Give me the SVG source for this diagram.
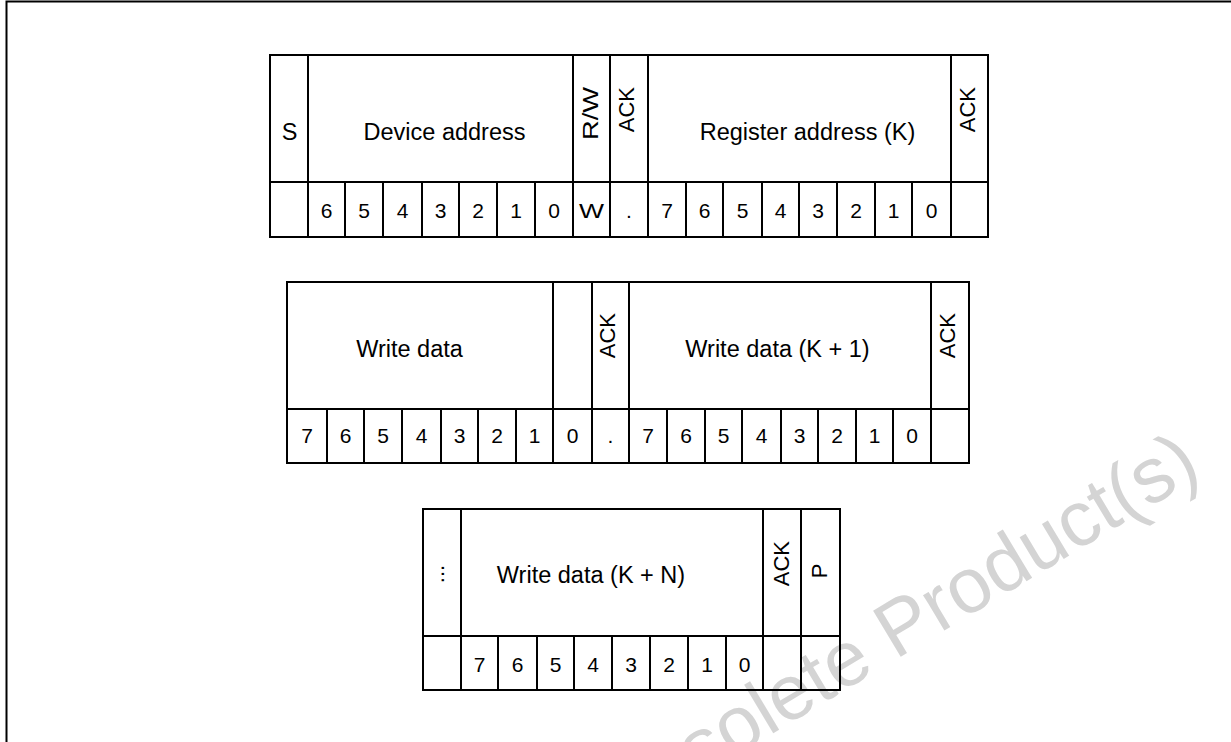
<svg xmlns="http://www.w3.org/2000/svg" width="1231" height="742" viewBox="0 0 1231 742">
<style>
.ln{stroke:#000;stroke-width:2;fill:none}
text{font-family:"Liberation Sans",Arial,sans-serif;fill:#000}
.lb{font-size:23.5px;text-anchor:middle}
.dg{font-size:21px;text-anchor:middle}
.rt{font-size:22px;text-anchor:end}
.wm{font-size:78px;fill:#d4d4d4}
</style>
<rect width="1231" height="742" fill="#fff"/>
<text class="wm" transform="translate(609,832) rotate(-31)">Obsolete Product(s)</text>
<path class="ln" d="M6.5,742 V1.5 H1231"/>

<g id="frame1">
<rect class="ln" x="270" y="55" width="718" height="182"/>
<path class="ln" d="M270,182 H988 M308,55 V237 M573,55 V237 M610,55 V237 M648,55 V237 M951,55 V237 M345,182 V237 M383,182 V237 M422,182 V237 M459,182 V237 M497,182 V237 M535,182 V237 M686,182 V237 M723,182 V237 M762,182 V237 M799,182 V237 M837,182 V237 M875,182 V237 M912,182 V237"/>
<text class="lb" x="289.5" y="139.5">S</text>
<text class="lb" x="444.5" y="139.5">Device address</text>
<text class="rt" transform="translate(598,87) rotate(-90)" textLength="53" lengthAdjust="spacingAndGlyphs">R/W</text>
<text class="rt" transform="translate(633.5,87) rotate(-90)">ACK</text>
<text class="lb" x="807.5" y="139.5">Register address (K)</text>
<text class="rt" transform="translate(975,87) rotate(-90)">ACK</text>
<g class="dg">
<text x="326.5" y="217.5">6</text><text x="364" y="217.5">5</text><text x="402.5" y="217.5">4</text><text x="440.5" y="217.5">3</text><text x="478" y="217.5">2</text><text x="516" y="217.5">1</text><text x="554" y="217.5">0</text>
<text x="591.5" y="217.5" textLength="25" lengthAdjust="spacingAndGlyphs" text-anchor="start" dx="-12.5">W</text>
<text x="629" y="217.5">.</text>
<text x="667" y="217.5">7</text><text x="704.5" y="217.5">6</text><text x="742.5" y="217.5">5</text><text x="780.5" y="217.5">4</text><text x="818" y="217.5">3</text><text x="856" y="217.5">2</text><text x="893.5" y="217.5">1</text><text x="931.5" y="217.5">0</text>
</g>
</g>

<g id="frame2">
<rect class="ln" x="287" y="282" width="682" height="181"/>
<path class="ln" d="M287,409 H969 M553,282 V463 M592,282 V463 M629,282 V463 M931,282 V463 M327,409 V463 M364,409 V463 M402,409 V463 M441,409 V463 M478,409 V463 M516,409 V463 M667,409 V463 M705,409 V463 M742,409 V463 M781,409 V463 M818,409 V463 M856,409 V463 M893,409 V463"/>
<text class="lb" x="409.5" y="357">Write data</text>
<text class="rt" transform="translate(615,313) rotate(-90)">ACK</text>
<text class="lb" x="777.5" y="357">Write data (K + 1)</text>
<text class="rt" transform="translate(955,313) rotate(-90)">ACK</text>
<g class="dg">
<text x="307" y="443">7</text><text x="345.5" y="443">6</text><text x="383" y="443">5</text><text x="421.5" y="443">4</text><text x="459.5" y="443">3</text><text x="497" y="443">2</text><text x="534.5" y="443">1</text><text x="572.5" y="443">0</text>
<text x="610.5" y="443">.</text>
<text x="648" y="443">7</text><text x="686" y="443">6</text><text x="723.5" y="443">5</text><text x="761.5" y="443">4</text><text x="799.5" y="443">3</text><text x="837" y="443">2</text><text x="874.5" y="443">1</text><text x="912" y="443">0</text>
</g>
</g>

<g id="frame3">
<rect class="ln" x="423" y="509" width="417" height="181"/>
<path class="ln" d="M423,636 H840 M461,509 V690 M763,509 V690 M801,509 V690 M498,636 V690 M537,636 V690 M574,636 V690 M612,636 V690 M650,636 V690 M688,636 V690 M726,636 V690"/>
<text class="dg" transform="translate(444,574) rotate(-90)" style="font-size:22px">...</text>
<text class="lb" x="591" y="583">Write data (K + N)</text>
<text class="rt" transform="translate(789,541) rotate(-90)">ACK</text>
<text class="dg" transform="translate(827,571) rotate(-90)" style="font-size:22px">P</text>
<g class="dg">
<text x="479.5" y="672">7</text><text x="517.5" y="672">6</text><text x="555.5" y="672">5</text><text x="593" y="672">4</text><text x="631" y="672">3</text><text x="669" y="672">2</text><text x="707" y="672">1</text><text x="744.5" y="672">0</text>
</g>
</g>
</svg>
